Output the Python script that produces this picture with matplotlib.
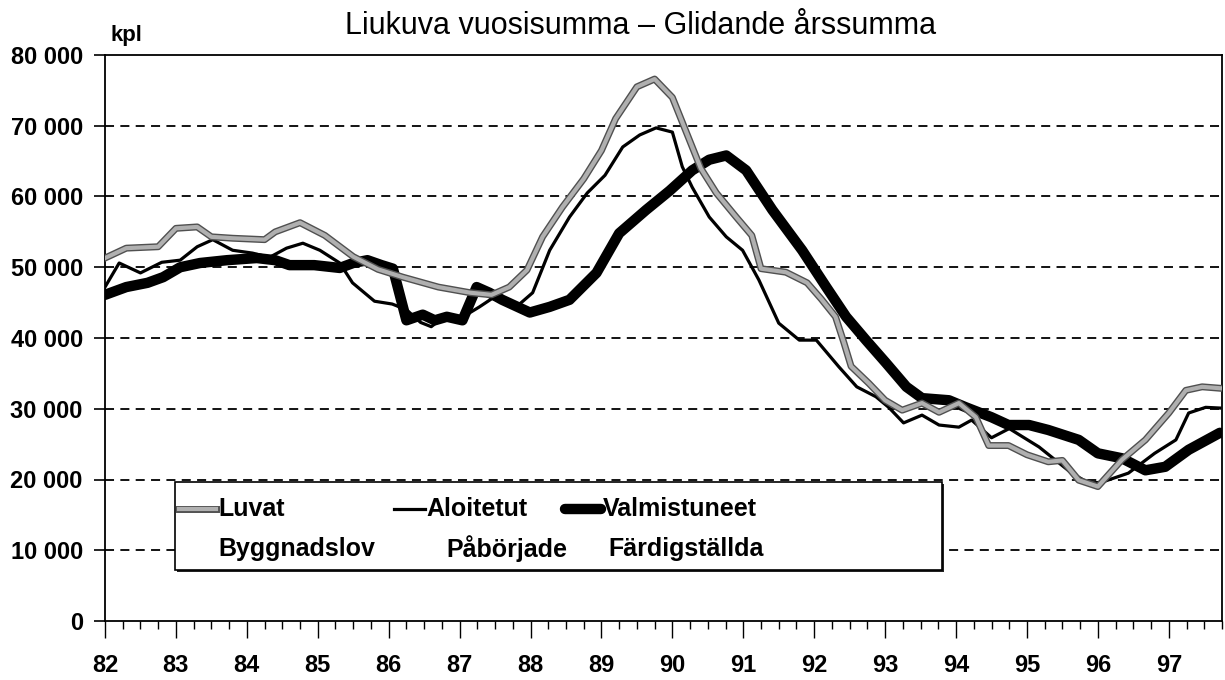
import matplotlib
matplotlib.use("Agg")
import matplotlib.pyplot as plt
from matplotlib import font_manager
from matplotlib.lines import Line2D
from matplotlib.patches import Rectangle
import matplotlib.patheffects as pe
import numpy as np

# ---------------- data (values in units, x in decimal years "82".."97") -------------
luvat_x = [82.0, 82.3, 82.75, 83.0, 83.3, 83.5, 83.8, 84.25, 84.4, 84.75, 85.1, 85.5, 85.85,
           86.2, 86.7, 87.15, 87.45, 87.7, 87.95, 88.17, 88.45, 88.75, 89.0, 89.2, 89.5, 89.75,
           90.0, 90.2, 90.4, 90.62, 90.9, 91.12, 91.25, 91.6, 91.9, 92.1, 92.3, 92.42, 92.52,
           92.77, 93.0, 93.24, 93.52, 93.76, 94.04, 94.28, 94.46, 94.74, 95.0, 95.3, 95.5,
           95.73, 96.0, 96.34, 96.67, 97.0, 97.24, 97.47, 97.72]
luvat_y = [51300, 52700, 52900, 55500, 55700, 54300, 54100, 53900, 55000, 56300, 54500, 51500, 49700,
           48600, 47200, 46400, 46100, 47200, 49600, 54300, 58500, 62500, 66500, 71000, 75500, 76600,
           74000, 69000, 64000, 60500, 57100, 54500, 49800, 49300, 47800, 45500, 43000, 39300, 36000,
           33600, 31200, 29800, 30800, 29500, 30800, 28800, 24800, 24800, 23500, 22500, 22700,
           19900, 19000, 22800, 25600, 29400, 32600, 33100, 32900]

aloit_x = [82.0, 82.2, 82.5, 82.8, 83.06, 83.3, 83.52, 83.8, 84.08, 84.32, 84.56, 84.79, 85.03,
           85.31, 85.49, 85.8, 86.05, 86.25, 86.45, 86.6, 86.78, 87.05, 87.28, 87.46, 87.8, 88.03,
           88.27, 88.55, 88.8, 89.05, 89.3, 89.54, 89.77, 90.0, 90.14, 90.28, 90.52, 90.76, 90.99,
           91.22, 91.5, 91.79, 92.03, 92.35, 92.6, 92.87, 93.05, 93.26, 93.52, 93.76, 94.04, 94.22,
           94.5, 94.75, 95.17, 95.63, 95.87, 96.05, 96.43, 96.8, 97.1, 97.28, 97.52, 97.72]
aloit_y = [47200, 50600, 49200, 50700, 51000, 52900, 53900, 52400, 52000, 51400, 52700, 53400, 52400,
           50600, 47800, 45200, 44800, 44000, 42200, 41600, 43000, 43000, 44400, 45600, 44400, 46400,
           52400, 57100, 60500, 63000, 67000, 68700, 69700, 69100, 64200, 61300, 57100, 54300, 52400,
           48200, 42100, 39700, 39700, 35900, 33100, 31700, 30200, 28000, 29100, 27700, 27400, 28400,
           25900, 27200, 24600, 20900, 19500, 19600, 20900, 23700, 25600, 29400, 30200, 30100]

valm_x = [82.0, 82.3, 82.6, 82.82, 83.06, 83.34, 83.72, 84.14, 84.4, 84.6, 84.95, 85.31, 85.5,
          85.7, 85.9, 86.06, 86.25, 86.48, 86.65, 86.82, 87.04, 87.24, 87.42, 87.6, 87.99, 88.27,
          88.55, 88.93, 89.25, 89.63, 89.96, 90.28, 90.52, 90.76, 91.04, 91.41, 91.83, 92.17,
          92.45, 92.73, 93.01, 93.3, 93.52, 93.9, 94.14, 94.5, 94.74, 95.03, 95.3, 95.73, 96.0,
          96.34, 96.67, 96.95, 97.28, 97.72]
valm_y = [46100, 47200, 47800, 48600, 50000, 50600, 51000, 51300, 51000, 50300, 50300, 49900, 50600,
          51000, 50300, 49800, 42500, 43300, 42500, 43000, 42500, 47200, 46400, 45400, 43600, 44400,
          45400, 49200, 54800, 58100, 60800, 63700, 65200, 65800, 63700, 58100, 52400, 47200,
          43000, 39700, 36500, 33100, 31500, 31200, 30200, 28800, 27700, 27700, 27000, 25600, 23700,
          23000, 21300, 21800, 24200, 26600]

year_ticks = list(range(82, 98))
year_labels = [str(y) for y in year_ticks]
y_ticks = list(range(0, 80001, 10000))
title = "Liukuva vuosisumma – Glidande årssumma"
unit = "kpl"
legend_top = ["Luvat", "Aloitetut", "Valmistuneet"]
legend_bottom = ["Byggnadslov", "Påbörjade", "Färdigställda"]

# ---------------- fonts ----------------
plt.rcParams['font.family'] = ['Liberation Sans', 'DejaVu Sans']

fig = plt.figure(figsize=(12.25, 6.8), dpi=100)
ax = fig.add_axes([105 / 1225, 59 / 680, 1117 / 1225, 566 / 680])

ax.set_xlim(82, 97.75)
ax.set_ylim(0, 80000)

# series
ax.plot(valm_x, valm_y, color='black', lw=7.5, solid_joinstyle='round', solid_capstyle='round', zorder=3)
ax.plot(aloit_x, aloit_y, color='black', lw=2.3, solid_joinstyle='round', zorder=4)
luv_effects = [pe.Stroke(linewidth=5.0, foreground='#505050'), pe.Normal()]
ax.plot(luvat_x, luvat_y, color='#b0b0b0', lw=3.0, solid_joinstyle='round', zorder=5,
        path_effects=luv_effects)

# grid
for v in y_ticks[1:-1]:
    ax.axhline(v, color='black', lw=1.3, linestyle=(0, (5, 3.5)), zorder=1)

# axes frame
for s in ax.spines.values():
    s.set_linewidth(1.3)
    s.set_color('black')

ax.set_yticks(y_ticks)
ax.set_yticklabels([f"{v:,}".replace(",", " ") for v in y_ticks])
ax.set_xticks(year_ticks)
ax.set_xticklabels(year_labels)
ax.set_xticks(np.arange(82, 97.76, 0.25), minor=True)
ax.tick_params(axis='y', direction='out', length=8, width=1.2, pad=8, labelsize=17)
ax.tick_params(axis='x', which='major', direction='out', length=12, width=1.0, pad=12, labelsize=17)
ax.tick_params(axis='x', which='minor', direction='out', length=6, width=1.0)
for lab in ax.get_xticklabels() + ax.get_yticklabels():
    lab.set_fontweight('bold')

fig.text(0.523, 0.962, title, ha='center', va='center', fontsize=22)
fig.text(110 / 1225, 1 - 35 / 680, unit, ha='left', va='center', fontsize=16, fontweight='bold')

# legend (manual, two text rows)
tr = ax.transAxes
bx0, bx1, by0, by1 = 0.0627, 0.749, 0.090, 0.246
ax.add_patch(Rectangle((bx0 + 0.002, by0 - 0.004), bx1 - bx0, by1 - by0, transform=tr,
                       facecolor='#222222', edgecolor='none', zorder=6))
ax.add_patch(Rectangle((bx0, by0), bx1 - bx0, by1 - by0, transform=tr,
                       facecolor='white', edgecolor='black', lw=1.2, zorder=7))
row1 = (621 - 509) / 566
row2 = (621 - 549) / 566
samples = [(179, 216), (394, 425), (565, 601)]
texts_x = [218, 426, 603]
texts2_x = [218, 446, 608]
styles = [dict(color='#b0b0b0', lw=3.0, path_effects=luv_effects),
          dict(color='black', lw=2.3),
          dict(color='black', lw=7.5, solid_capstyle='round')]
for (s0, s1), st, tx, tx2, t1, t2 in zip(samples, styles, texts_x, texts2_x, legend_top, legend_bottom):
    ax.add_line(Line2D([(s0 - 105) / 1117, (s1 - 105) / 1117], [row1, row1], transform=tr, zorder=8, **st))
    ax.text((tx - 105) / 1117, row1, t1, transform=tr, ha='left', va='center', fontsize=18,
            fontweight='bold', zorder=9)
    ax.text((tx2 - 105) / 1117, row2, t2, transform=tr, ha='left', va='center', fontsize=18,
            fontweight='bold', zorder=9)

fig.savefig("out.png", dpi=100)
